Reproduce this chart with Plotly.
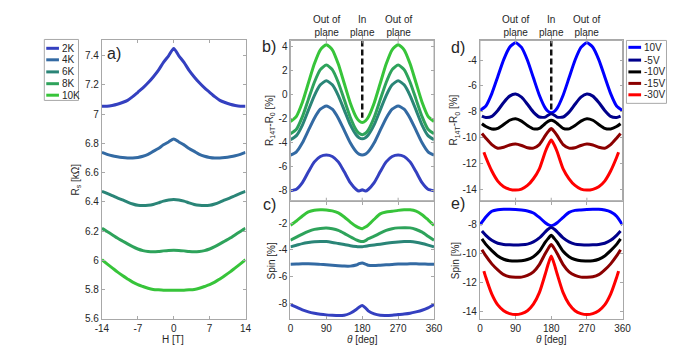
import plotly.graph_objects as go

# ---------------- data ----------------
H_field = list(range(-14, 15))
temps = ["2K", "4K", "6K", "8K", "10K"]
temp_colors = ["#3440c0", "#336aa3", "#2a8577", "#2ea35b", "#37c43a"]

rs_2K = [7.055, 7.055, 7.06, 7.068, 7.08, 7.095, 7.12, 7.15, 7.18, 7.215, 7.255, 7.30, 7.355, 7.40, 7.45,
         7.40, 7.355, 7.30, 7.255, 7.215, 7.18, 7.15, 7.12, 7.095, 7.08, 7.068, 7.06, 7.055, 7.055]
rs_4K = [6.738, 6.725, 6.715, 6.708, 6.703, 6.70, 6.70, 6.704, 6.712, 6.725, 6.745, 6.765, 6.79, 6.81, 6.83,
         6.81, 6.79, 6.765, 6.745, 6.725, 6.712, 6.704, 6.70, 6.70, 6.703, 6.708, 6.715, 6.725, 6.738]
rs_6K = [6.472, 6.458, 6.443, 6.427, 6.413, 6.398, 6.385, 6.376, 6.374, 6.376, 6.382, 6.393, 6.405, 6.413, 6.415,
         6.413, 6.405, 6.393, 6.382, 6.376, 6.374, 6.376, 6.385, 6.398, 6.413, 6.427, 6.443, 6.458, 6.472]
rs_8K = [6.218, 6.197, 6.175, 6.152, 6.132, 6.112, 6.093, 6.077, 6.066, 6.06, 6.058, 6.06, 6.064, 6.067, 6.068,
         6.067, 6.064, 6.06, 6.058, 6.06, 6.066, 6.077, 6.093, 6.112, 6.132, 6.152, 6.175, 6.197, 6.218]
rs_10K = [6.003, 5.975, 5.948, 5.92, 5.895, 5.872, 5.85, 5.833, 5.82, 5.808, 5.80, 5.797, 5.795, 5.795, 5.795,
          5.795, 5.795, 5.797, 5.80, 5.808, 5.82, 5.833, 5.85, 5.872, 5.895, 5.92, 5.948, 5.975, 6.003]
rs_values = [rs_2K, rs_4K, rs_6K, rs_8K, rs_10K]

theta = [0, 15, 30, 45, 60, 75, 90, 105, 120, 135, 150, 165, 172, 180, 188, 195, 210, 225, 240, 255, 270,
         285, 300, 315, 330, 345, 360]
theta_inner = [5, 15, 30, 45, 60, 75, 90, 105, 120, 135, 150, 165, 172, 180, 188, 195, 210, 225, 240, 255, 270,
               285, 300, 315, 330, 345, 355]
theta_red = [10, 15, 30, 45, 60, 75, 90, 105, 120, 135, 150, 165, 172, 180, 188, 195, 210, 225, 240, 255, 270,
             285, 300, 315, 330, 345, 350]

b_2K = [-8.02, -7.9, -7.35, -6.45, -5.62, -5.17, -5.05, -5.17, -5.62, -6.45, -7.35, -7.92, -8.05, -7.95, -8.05,
        -7.92, -7.35, -6.45, -5.62, -5.17, -5.05, -5.17, -5.62, -6.45, -7.35, -7.9, -8.02]
b_4K = [-5.05, -4.78, -4.03, -3.0, -1.98, -1.23, -0.96, -1.23, -1.98, -3.0, -4.03, -4.78, -4.97, -5.05, -4.97,
        -4.78, -4.03, -3.0, -1.98, -1.23, -0.96, -1.23, -1.98, -3.0, -4.03, -4.78, -5.05]
b_6K = [-3.77, -3.43, -2.55, -1.31, -0.09, 0.8, 1.14, 0.8, -0.09, -1.3, -2.52, -3.38, -3.6, -3.7, -3.6,
        -3.38, -2.52, -1.3, -0.09, 0.8, 1.14, 0.8, -0.09, -1.31, -2.55, -3.43, -3.77]
b_8K = [-3.28, -2.9, -1.85, -0.41, 1.02, 2.07, 2.45, 2.07, 1.0, -0.45, -1.9, -2.97, -3.24, -3.35, -3.24,
        -2.97, -1.9, -0.45, 1.0, 2.07, 2.45, 2.07, 1.02, -0.41, -1.85, -2.9, -3.28]
b_10K = [-2.25, -1.82, -0.65, 0.95, 2.55, 3.72, 4.15, 3.72, 2.53, 0.91, -0.71, -1.9, -2.2, -2.33, -2.2,
         -1.9, -0.71, 0.91, 2.53, 3.72, 4.15, 3.72, 2.55, 0.95, -0.65, -1.82, -2.25]
b_values = [b_2K, b_4K, b_6K, b_8K, b_10K]

c_2K = [-8.05, -8.25, -8.45, -8.6, -8.7, -8.77, -8.82, -8.85, -8.87, -8.85, -8.7, -8.42, -8.25, -8.13, -8.3,
        -8.52, -8.75, -8.85, -8.86, -8.84, -8.8, -8.76, -8.7, -8.6, -8.48, -8.3, -8.05]
c_4K = [-5.07, -5.05, -5.03, -5.03, -5.04, -5.07, -5.1, -5.13, -5.17, -5.2, -5.2, -5.12, -5.02, -4.96, -5.05,
        -5.14, -5.16, -5.13, -5.1, -5.08, -5.05, -5.04, -5.03, -5.03, -5.04, -5.06, -5.07]
c_6K = [-3.77, -3.65, -3.53, -3.45, -3.39, -3.37, -3.38, -3.44, -3.52, -3.6, -3.68, -3.74, -3.76, -3.77, -3.72,
        -3.68, -3.63, -3.57, -3.5, -3.44, -3.4, -3.38, -3.38, -3.43, -3.52, -3.64, -3.77]
c_8K = [-3.28, -3.05, -2.82, -2.62, -2.47, -2.4, -2.37, -2.43, -2.55, -2.77, -3.02, -3.25, -3.33, -3.38, -3.3,
        -3.17, -2.98, -2.75, -2.55, -2.42, -2.36, -2.35, -2.36, -2.48, -2.68, -2.98, -3.28]
c_10K = [-2.17, -1.85, -1.48, -1.18, -1.05, -1.02, -1.03, -1.1, -1.25, -1.55, -1.93, -2.25, -2.35, -2.42, -2.3,
         -2.15, -1.72, -1.32, -1.18, -1.13, -1.06, -1.02, -1.02, -1.12, -1.38, -1.76, -2.17]
c_values = [c_2K, c_4K, c_6K, c_8K, c_10K]

volts = ["10V", "-5V", "-10V", "-15V", "-30V"]
volt_colors = ["#0000ff", "#00008b", "#000000", "#8b0000", "#ff0000"]
volt_thetas = [theta, theta_inner, theta_inner, theta_inner, theta_red]

d_10V = [-7.9, -7.55, -6.59, -5.28, -3.96, -3.0, -2.65, -3.01, -4.01, -5.37, -6.72, -7.72, -7.97, -8.08, -7.97,
         -7.72, -6.72, -5.37, -4.01, -3.01, -2.65, -3.0, -3.96, -5.28, -6.59, -7.55, -7.9]
d_m5V = [-8.34, -8.45, -8.36, -7.9, -7.28, -6.79, -6.63, -6.87, -7.42, -8.03, -8.41, -8.42, -8.27, -8.16, -8.27,
         -8.42, -8.41, -8.03, -7.42, -6.87, -6.63, -6.79, -7.28, -7.9, -8.36, -8.45, -8.34]
d_m10V = [-8.93, -9.15, -9.34, -9.29, -8.99, -8.66, -8.54, -8.73, -9.07, -9.33, -9.29, -8.91, -8.75, -8.67, -8.75,
          -8.91, -9.29, -9.33, -9.07, -8.73, -8.54, -8.66, -8.99, -9.29, -9.34, -9.15, -8.93]
d_m15V = [-9.69, -10.05, -10.55, -10.83, -10.75, -10.58, -10.51, -10.62, -10.8, -10.82, -10.55, -9.85, -9.55, -9.31,
          -9.55, -9.85, -10.55, -10.82, -10.8, -10.62, -10.51, -10.58, -10.75, -10.83, -10.55, -10.05, -9.69]
d_m30V = [-11.15, -11.55, -12.6, -13.38, -13.82, -14.02, -14.08, -14.0, -13.72, -13.2, -12.43, -11.1, -10.6, -10.2,
          -10.6, -11.1, -12.43, -13.2, -13.72, -14.0, -14.08, -14.02, -13.82, -13.38, -12.6, -11.55, -11.15]
d_values = [d_10V, d_m5V, d_m10V, d_m15V, d_m30V]

e_10V = [-8.0, -7.45, -7.05, -6.94, -6.91, -6.91, -6.93, -6.97, -7.03, -7.17, -7.48, -7.85, -7.98, -8.05, -7.98,
         -7.85, -7.48, -7.13, -6.99, -6.96, -6.93, -6.91, -6.91, -6.97, -7.1, -7.4, -8.0]
e_m5V = [-8.42, -8.72, -9.07, -9.27, -9.35, -9.38, -9.4, -9.38, -9.33, -9.18, -8.9, -8.48, -8.3, -8.18, -8.3,
         -8.48, -8.9, -9.18, -9.33, -9.38, -9.4, -9.38, -9.35, -9.27, -9.07, -8.72, -8.42]
e_m10V = [-8.97, -9.35, -9.78, -10.15, -10.38, -10.48, -10.5, -10.49, -10.4, -10.2, -9.83, -9.2, -8.95, -8.72,
          -8.95, -9.2, -9.83, -10.2, -10.4, -10.49, -10.5, -10.48, -10.38, -10.15, -9.78, -9.35, -8.97]
e_m15V = [-9.72, -10.15, -10.7, -11.12, -11.45, -11.6, -11.63, -11.62, -11.5, -11.25, -10.75, -9.98, -9.65, -9.36,
          -9.65, -9.98, -10.75, -11.25, -11.5, -11.62, -11.63, -11.6, -11.45, -11.12, -10.7, -10.15, -9.72]
e_m30V = [-11.2, -11.65, -12.8, -13.55, -13.95, -14.15, -14.22, -14.15, -13.95, -13.5, -12.7, -11.4, -10.75, -10.15,
          -10.75, -11.4, -12.7, -13.5, -13.95, -14.15, -14.22, -14.15, -13.95, -13.55, -12.8, -11.65, -11.2]
e_values = [e_10V, e_m5V, e_m10V, e_m15V, e_m30V]

in_plane_angle = 180
b_dash_y = [4.5, -1.95]
d_dash_y = [-2.47, -7.9]
top_labels = ["Out of<br>plane", "In<br>plane", "Out of<br>plane"]
top_label_angles = [90, 180, 270]

a_xticks = [-14, -7, 0, 7, 14]
a_xtext = ["-14", "-7", "0", "7", "14"]
a_yticks = [5.6, 5.8, 6.0, 6.2, 6.4, 6.6, 6.8, 7.0, 7.2, 7.4]
a_ytext = ["5.6", "5.8", "6", "6.2", "6.4", "6.6", "6.8", "7", "7.2", "7.4"]
th_ticks = [0, 90, 180, 270, 360]
th_text = ["0", "90", "180", "270", "360"]
b_yticks = [-8, -6, -4, -2, 0, 2, 4]
b_ytext = ["-8", "-6", "-4", "-2", "0", "2", "4"]
c_yticks = [-8, -6, -4, -2]
c_ytext = ["-8", "-6", "-4", "-2"]
d_yticks = [-14, -12, -10, -8, -6, -4]
d_ytext = ["-14", "-12", "-10", "-8", "-6", "-4"]
e_yticks = [-14, -12, -10, -8]
e_ytext = ["-14", "-12", "-10", "-8"]

# ---------------- figure ----------------
W, HH = 688, 354
def px(x):
    return x / W
def py(y):
    return 1 - y / HH

FONT = "Liberation Sans, Arial, sans-serif"
TICKC = "#262626"
AXC = "#a8a8a8"
LW = 3

fig = go.Figure()

def add_line(x, y, color, xa, ya, name):
    fig.add_trace(go.Scatter(x=x, y=y, mode="lines", name=name, showlegend=False,
                             line=dict(color=color, width=LW, shape="spline", smoothing=0.6),
                             xaxis=xa, yaxis=ya, hoverinfo="skip"))

# panels b and d share the theta axis of the panel below them (x3 / x5)
for n, c, ys in zip(temps, temp_colors, rs_values):
    add_line(H_field, ys, c, "x", "y", n)
for n, c, ys in zip(temps, temp_colors, b_values):
    add_line(theta, ys, c, "x3", "y2", n)
for n, c, ys in zip(temps, temp_colors, c_values):
    add_line(theta, ys, c, "x3", "y3", n)
for n, c, th, ys in zip(volts, volt_colors, volt_thetas, d_values):
    add_line(th, ys, c, "x5", "y4", n)
for n, c, th, ys in zip(volts, volt_colors, volt_thetas, e_values):
    add_line(th, ys, c, "x5", "y5", n)

for xa, ya, yy in [("x3", "y2", b_dash_y), ("x5", "y4", d_dash_y)]:
    fig.add_trace(go.Scatter(x=[in_plane_angle, in_plane_angle], y=yy, mode="lines", showlegend=False,
                             line=dict(color="#111111", width=2.5, dash="6px,3px"),
                             xaxis=xa, yaxis=ya, hoverinfo="skip"))

def axis(domain, rng, tv, tt, anchor=None):
    return dict(domain=domain, range=rng, tickmode="array", tickvals=tv, ticktext=tt,
                ticks="inside", ticklen=3, tickcolor=AXC, tickwidth=1,
                showline=True, linecolor=AXC, linewidth=1, mirror="allticks",
                showgrid=False, zeroline=False, anchor=anchor, fixedrange=True,
                tickfont=dict(family=FONT, size=10, color=TICKC))

xa_dom = [px(89), px(236)]
xb_dom = [px(282), px(429)]
xd_dom = [px(476), px(622)]
y_full = [py(316), py(33)]
y_top = [py(196), py(33)]
y_bot = [py(316), py(197.5)]

fig.update_layout(
    width=W, height=HH, margin=dict(l=0, r=0, t=0, b=0),
    paper_bgcolor="white", plot_bgcolor="white",
    font=dict(family=FONT, color=TICKC, size=10),
    xaxis=axis(xa_dom, [-14, 14], a_xticks, a_xtext, "y"),
    yaxis=axis(y_full, [5.6, 7.505], a_yticks, a_ytext, "x"),
    yaxis2=axis(y_top, [-8.85, 4.5], b_yticks, b_ytext, "x3"),
    xaxis3=axis(xb_dom, [0, 360], th_ticks, th_text, "y3"),
    yaxis3=axis(y_bot, [-9.1, -0.45], c_yticks, c_ytext, "x3"),
    yaxis4=axis(y_top, [-14.9, -2.47], d_yticks, d_ytext, "x5"),
    xaxis5=axis(xd_dom, [0, 360], th_ticks, th_text, "y5"),
    yaxis5=axis(y_bot, [-14.5, -6.42], e_yticks, e_ytext, "x5"),
)

ann = []
def text(x, y, s, size=10, angle=0, xanchor="center", xref="paper"):
    ann.append(dict(x=x, y=y, xref=xref, yref="paper", text=s, showarrow=False, textangle=angle,
                    xanchor=xanchor, yanchor="middle", font=dict(family=FONT, size=size, color=TICKC)))

# axis titles
R14 = "R<sub>14T</sub>-R<sub>0</sub> [%]"
TH = "<i>θ</i> [deg]"
text(px(62), py(175), "R<sub>s</sub> [kΩ]", 10, -90)
text(px(162), py(337), "H [T]", 10)
text(px(261), py(114), R14, 10, -90)
text(px(263), py(257), "Spin [%]", 10, -90)
text(px(450), py(114), R14, 10, -90)
text(px(451), py(257), "Spin [%]", 10, -90)
text(px(355.5), py(337), TH, 10)
text(px(549), py(337), TH, 10)

# panel letters
for lab, x, y in [("a)", 101, 46), ("b)", 260, 39), ("c)", 261, 200), ("d)", 454, 40), ("e)", 454, 199)]:
    text(px(x), py(y), lab, 16)

# orientation labels
for xr in ["x3", "x5"]:
    for s, a in zip(top_labels, top_label_angles):
        text(a, py(18), s, 10, 0, "center", xr)

shapes = []
# frames and tick marks of the upper panels (b, d)
for xr, yr in [("x3", "y2"), ("x5", "y4")]:
    shapes.append(dict(type="rect", xref=xr + " domain", yref=yr + " domain", x0=0, x1=1, y0=0, y1=1,
                       line=dict(color=AXC, width=1), layer="above"))
    for t in th_ticks[1:-1]:
        for y0, y1 in [(0, 3 / 163), (1, 1 - 3 / 163)]:
            shapes.append(dict(type="line", xref=xr, yref=yr + " domain", x0=t, x1=t, y0=y0, y1=y1,
                               line=dict(color=AXC, width=1), layer="above"))

# manual legends
def legend(x0, y0, x1, y1, line_x0, line_x1, ys, names, colors):
    shapes.append(dict(type="rect", xref="paper", yref="paper", x0=px(x0), x1=px(x1), y0=py(y1), y1=py(y0),
                       line=dict(color=AXC, width=1), fillcolor="white", layer="above"))
    for yy, n, c in zip(ys, names, colors):
        shapes.append(dict(type="line", xref="paper", yref="paper", x0=px(line_x0), x1=px(line_x1),
                           y0=py(yy), y1=py(yy), line=dict(color=c, width=3), layer="above"))
        ann.append(dict(x=px(line_x1 + 1), y=py(yy), xref="paper", yref="paper", text=n, showarrow=False,
                        xanchor="left", yanchor="middle", font=dict(family=FONT, size=10, color=TICKC)))

legend(30, 32, 65, 94, 32, 45, [41, 52.7, 65, 77, 88.7], temps, temp_colors)
legend(626, 33, 667, 97, 628, 641, [40, 53, 65, 76.7, 88.3], volts, volt_colors)

fig.update_layout(annotations=ann, shapes=shapes)
fig.write_html("out.html")
